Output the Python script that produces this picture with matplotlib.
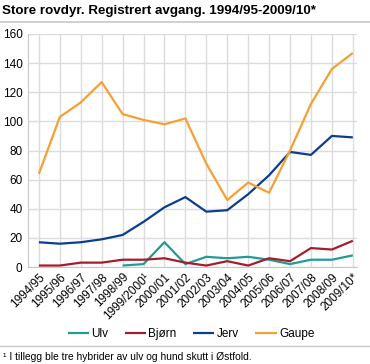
import matplotlib
matplotlib.use("Agg")
import matplotlib.pyplot as plt
import numpy as np

plt.rcParams["font.family"] = ["Liberation Sans", "DejaVu Sans"]

seasons = ["1994/95", "1995/96", "1996/97", "1997/98", "1998/99", "1999/2000\u00b9",
           "2000/01", "2001/02", "2002/03", "2003/04", "2004/05", "2005/06",
           "2006/07", "2007/08", "2008/09", "2009/10*"]
ulv = [np.nan, np.nan, np.nan, np.nan, 1, 2, 17, 2, 7, 6, 7, 5, 2, 5, 5, 8]
bjorn = [1, 1, 3, 3, 5, 5, 6, 3, 1, 4, 1, 6, 4, 13, 12, 18]
jerv = [17, 16, 17, 19, 22, 31, 41, 48, 38, 39, 50, 63, 79, 77, 90, 89]
gaupe = [64, 103, 113, 127, 105, 101, 98, 102, 71, 46, 58, 51, 80, 112, 136, 147]

series = [("Ulv", ulv, "#1f9c98"), ("Bjørn", bjorn, "#a51d2d"),
          ("Jerv", jerv, "#0b3d91"), ("Gaupe", gaupe, "#f7a032")]

fig = plt.figure(figsize=(3.7, 3.64), dpi=100)
ax = fig.add_axes([28 / 370, 1 - 267 / 364, 329 / 370, 233 / 364])

x = np.arange(len(seasons))
for name, vals, col in series:
    ax.plot(x, vals, color=col, lw=1.6, label=name, solid_capstyle="butt")

ax.set_xlim(-0.52, 15.2)
ax.set_ylim(0, 160)
ax.set_yticks(range(0, 161, 20))
ax.set_xticks(x)
ax.set_xticklabels(seasons, rotation=45, ha="right", rotation_mode="anchor", fontsize=8.5)
ax.tick_params(axis="y", labelsize=8.5, length=0, pad=4)
ax.tick_params(axis="x", length=0, pad=3)
ax.grid(True, color="#dcdcdc", lw=1)
ax.set_axisbelow(True)
for side in ("top", "right"):
    ax.spines[side].set_visible(False)
for side in ("left", "bottom"):
    ax.spines[side].set_color("#c8c8c8")

fig.legend(loc="center", bbox_to_anchor=(191 / 370, 1 - 334 / 364), ncol=4, frameon=False,
           fontsize=8.5, handlelength=1.8, columnspacing=1.4, handletextpad=0.2)

fig.text(2 / 370, 1 - 11 / 364, "Store rovdyr. Registrert avgang. 1994/95-2009/10*",
         fontsize=9.6, fontweight="bold", va="center", ha="left")
fig.add_artist(plt.Line2D([0, 1], [1 - 22 / 364] * 2, color="#c8c8c8", lw=1.2))
fig.add_artist(plt.Line2D([0, 1], [1 - 346 / 364] * 2, color="#c8c8c8", lw=1))
fig.text(3 / 370, 1 - 357 / 364, "\u00b9 I tillegg ble tre hybrider av ulv og hund skutt i Østfold.",
         fontsize=7.4, va="center", ha="left")

fig.savefig("out.png", dpi=100)
plt.close(fig)
